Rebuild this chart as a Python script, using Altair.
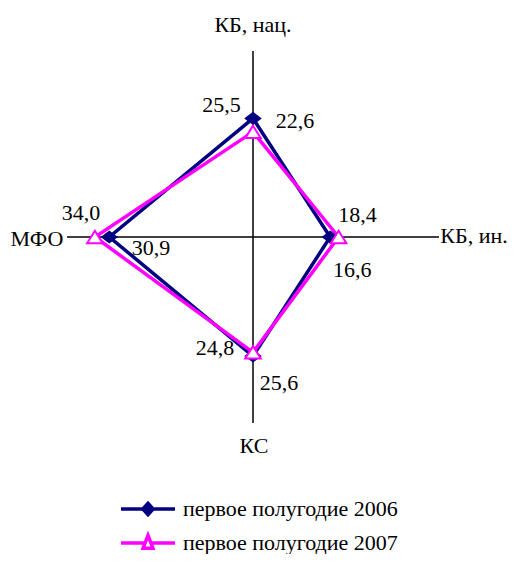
import altair as alt
import pandas as pd
import numpy as np

# ---- data ----
categories = ["КБ, нац.", "КБ, ин.", "КС", "МФО"]
axis_angles = [90, 0, 270, 180]          # direction of each spoke (degrees)
series_names = ["первое полугодие 2006", "первое полугодие 2007"]
values_2006 = [25.5, 16.6, 25.6, 30.9]
values_2007 = [22.6, 18.4, 24.8, 34.0]
series_colors = ["#000080", "#FF00FF"]

# ---- layout / style ----
AXIS_MAX = 40
PLOT = 372
PX = PLOT / (2 * AXIS_MAX)
FONT = "Liberation Serif"
FS = 22
# value-label offsets in px from the point (right, down), per series
label_offsets = [
    [(-31.5, -6.4), (22, 40), (26, 34), (41.7, 18)],
    [(42, -3.9), (19, -15), (-38, 2.7), (-14, -17)],
]
# spoke-title offsets in px from the centre (right, down)
title_offsets = [(0, -205), (221, 6), (1, 216), (-216, 9)]

rows = []
for si, (name, vals) in enumerate(zip(series_names, [values_2006, values_2007])):
    for ci, (cat, ang, v) in enumerate(zip(categories, axis_angles, vals)):
        a = np.deg2rad(ang)
        x = round(v * np.cos(a), 6)
        y = round(v * np.sin(a), 6)
        dx, dy = label_offsets[si][ci]
        rows.append(dict(series=name, cat=cat, value=v, order=ci, x=x, y=y,
                         label=f"{v:.1f}".replace(".", ","),
                         lx=x + dx / PX, ly=y - dy / PX))
pts = pd.DataFrame(rows)

closed = []
for name in series_names:
    d = pts[pts.series == name]
    first = d.iloc[[0]].copy()
    first["order"] = len(categories)
    closed.append(pd.concat([d, first]))
lines = pd.concat(closed, ignore_index=True)

spokes = pd.DataFrame({"x1": [-AXIS_MAX, 0], "x2": [AXIS_MAX, 0],
                       "y1": [0, -AXIS_MAX], "y2": [0, AXIS_MAX]})
titles = pd.DataFrame({"cat": categories,
                       "tx": [dx / PX for dx, dy in title_offsets],
                       "ty": [-dy / PX for dx, dy in title_offsets]})
legend_df = pd.DataFrame({"series": series_names, "x": [0, 0], "y": [0, 0]})

xs = alt.Scale(domain=[-AXIS_MAX, AXIS_MAX], nice=False, zero=False)
ys = alt.Scale(domain=[-AXIS_MAX, AXIS_MAX], nice=False, zero=False)

def X(f):
    return alt.X(f, type="quantitative", scale=xs, axis=None)

def Y(f):
    return alt.Y(f, type="quantitative", scale=ys, axis=None)

rules = alt.Chart(spokes).mark_rule(color="black", strokeWidth=1.5).encode(
    x=X("x1"), x2="x2", y=Y("y1"), y2="y2")

layers = [rules]
for name, col in zip(series_names, series_colors):
    layers.append(alt.Chart(lines[lines.series == name]).mark_line(
        color=col, strokeWidth=3.5).encode(x=X("x"), y=Y("y"), order="order:Q"))

diamond = "M-1,0L0,-0.75L1,0L0,0.75Z"
triangle = "M0,-0.8L1,0.8L-1,0.8Z"
layers.append(alt.Chart(pts[pts.series == series_names[0]]).mark_point(
    shape=diamond, size=225, filled=True, fill=series_colors[0],
    stroke=series_colors[0], strokeWidth=1.5, opacity=1).encode(x=X("x"), y=Y("y")))
layers.append(alt.Chart(pts[pts.series == series_names[1]]).mark_point(
    shape=triangle, size=240, filled=True, fill="white",
    stroke=series_colors[1], strokeWidth=2, opacity=1).encode(x=X("x"), y=Y("y")))

layers.append(alt.Chart(pts).mark_text(font=FONT, fontSize=FS, color="black",
                                       align="center", baseline="alphabetic").encode(
    x=X("lx"), y=Y("ly"), text="label:N"))
layers.append(alt.Chart(titles).mark_text(font=FONT, fontSize=FS, color="black",
                                          align="center", baseline="alphabetic").encode(
    x=X("tx"), y=Y("ty"), text="cat:N"))

leg_paths = ["M-1.42,0H1.42M-0.27,0L0,-0.3L0.27,0L0,0.3Z",
             "M-1.42,0H-0.15M0.15,0H1.42M0,-0.4L0.26,0.28L-0.26,0.28Z"]
leg = alt.Legend(title=None, orient="none", legendX=60, legendY=437, direction="vertical",
                 symbolSize=1444, symbolStrokeWidth=3.5, symbolOpacity=1,
                 labelFont=FONT, labelFontSize=FS, labelColor="black", labelLimit=400,
                 labelOffset=14, rowPadding=0, padding=0)
layers.append(alt.Chart(legend_df).mark_point(opacity=0).encode(
    x=X("x"), y=Y("y"),
    shape=alt.Shape("series:N", scale=alt.Scale(domain=series_names, range=leg_paths), legend=leg),
    stroke=alt.Stroke("series:N", scale=alt.Scale(domain=series_names, range=series_colors), legend=leg),
    fill=alt.Fill("series:N", scale=alt.Scale(domain=series_names, range=[series_colors[0], "white"]), legend=leg),
))

chart = alt.layer(*layers).properties(
    width=PLOT, height=PLOT,
    autosize=alt.AutoSizeParams(type="none"),
    padding={"left": 59, "top": 43, "right": 69, "bottom": 131},
).configure(background="white").configure_view(stroke=None)

chart.save("out.html", embed_options={"renderer": "svg", "actions": False})
